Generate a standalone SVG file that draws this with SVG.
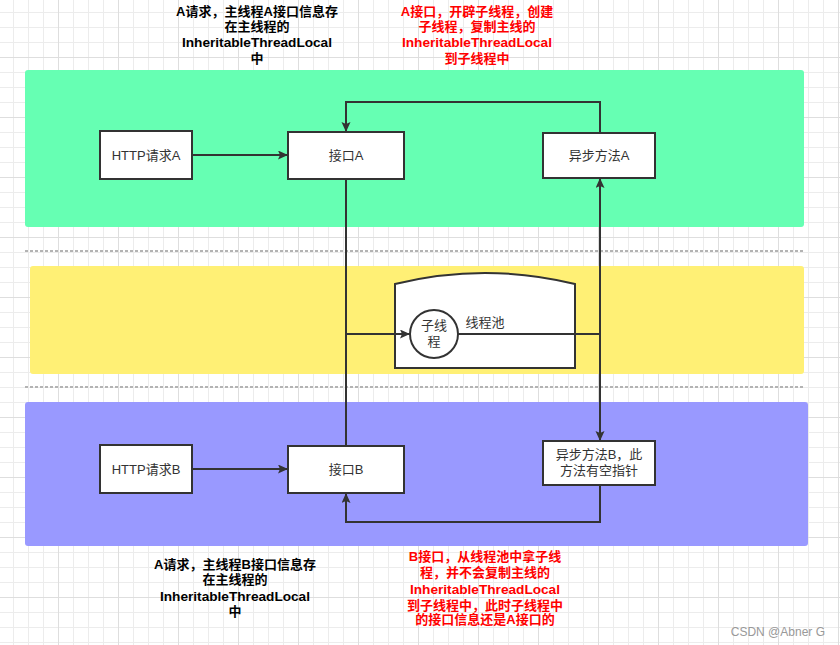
<svg xmlns="http://www.w3.org/2000/svg" width="840" height="645" viewBox="0 0 840 645">
<defs>
<pattern id="grid" x="-2" y="-3" width="60" height="60" patternUnits="userSpaceOnUse">
<rect x="0" y="0" width="60" height="60" fill="#ffffff"/>
<g fill="#ececec">
<rect x="15" y="0" width="1" height="60"/><rect x="30" y="0" width="1" height="60"/><rect x="45" y="0" width="1" height="60"/>
<rect x="0" y="15" width="60" height="1"/><rect x="0" y="30" width="60" height="1"/><rect x="0" y="45" width="60" height="1"/>
</g>
<g fill="#dedede"><rect x="0" y="0" width="1" height="60"/><rect x="0" y="0" width="60" height="1"/></g>
</pattern>
<marker id="arr" markerUnits="userSpaceOnUse" markerWidth="12" markerHeight="10" refX="10" refY="4.5" orient="auto" viewBox="0 0 12 10">
<path d="M0,0 L10,4.5 L0,9 L2,4.5 Z" fill="#333333"/>
</marker>
<style>
.box{fill:#ffffff;stroke:#333333;stroke-width:2}
.t{font-family:"Liberation Sans","Noto Sans CJK SC",sans-serif;font-size:13px;fill:#333333;text-anchor:middle}
.n{font-family:"Liberation Sans","Noto Sans CJK SC",sans-serif;font-size:13px;font-weight:bold;fill:#000000;text-anchor:middle}
.r{fill:#ff0000}
.edge{fill:none;stroke:#333333;stroke-width:2}
.dash{stroke:#b3b3b3;stroke-width:2;stroke-dasharray:3,2;fill:none}
</style>
</defs>
<rect x="0" y="0" width="840" height="645" fill="url(#grid)"/>

<g id="bands">
<rect x="25" y="70" width="779" height="157" rx="3" fill="#66ffb3"/>
<line class="dash" x1="25" y1="251" x2="804" y2="251"/>
<rect x="30" y="266" width="774" height="108" rx="3" fill="#fff075"/>
<line class="dash" x1="25" y1="387" x2="804" y2="387"/>
<rect x="25" y="402" width="783" height="144" rx="3" fill="#9999ff"/>
</g>

<g id="pool">
<path class="box" d="M395,284 Q485,262 575,284 L575,368 L395,368 Z"/>
<text class="t" x="485" y="327">线程池</text>
</g>

<g id="connectors">
<path class="edge" d="M192,155 L288,155" marker-end="url(#arr)"/>
<path class="edge" d="M192,469 L288,469" marker-end="url(#arr)"/>
<path class="edge" d="M600,133 L600,102 L346,102 L346,132" marker-end="url(#arr)"/>
<path class="edge" d="M600,485 L600,522 L346,522 L346,493" marker-end="url(#arr)"/>
<path class="edge" d="M346,179 L346,334 L410,334" marker-end="url(#arr)"/>
<path class="edge" d="M346,446 L346,334"/>
<path class="edge" d="M458,334 L600,334 L600,178" marker-end="url(#arr)"/>
<path class="edge" d="M600,334 L600,441" marker-end="url(#arr)"/>
</g>

<g id="thread">
<circle cx="434" cy="334" r="24" fill="#ffffff" stroke="#333333" stroke-width="2"/>
<text class="t" x="434" y="330">子线</text>
<text class="t" x="434" y="346">程</text>
</g>

<g id="httpA"><rect class="box" x="100" y="131" width="92" height="48"/><text class="t" x="146" y="160">HTTP请求A</text></g>
<g id="apiA"><rect class="box" x="288" y="132" width="116" height="47"/><text class="t" x="346" y="160">接口A</text></g>
<g id="asyncA"><rect class="box" x="543" y="133" width="112" height="45"/><text class="t" x="599" y="160">异步方法A</text></g>
<g id="httpB"><rect class="box" x="100" y="445" width="92" height="48"/><text class="t" x="146" y="474">HTTP请求B</text></g>
<g id="apiB"><rect class="box" x="288" y="446" width="116" height="47"/><text class="t" x="346" y="474">接口B</text></g>
<g id="asyncB"><rect class="box" x="543" y="441" width="112" height="44"/><text class="t" x="599" y="459">异步方法B，此</text><text class="t" x="599" y="475">方法有空指针</text></g>

<g id="noteTopA">
<text class="n" x="257" y="16">A请求，主线程A接口信息存</text>
<text class="n" x="257" y="31">在主线程的</text>
<text class="n" x="257" y="47" textLength="150" lengthAdjust="spacingAndGlyphs">InheritableThreadLocal</text>
<text class="n" x="257" y="63">中</text>
</g>
<g id="noteTopB">
<text class="n r" x="477" y="16">A接口，开辟子线程，创建</text>
<text class="n r" x="477" y="31">子线程，复制主线的</text>
<text class="n r" x="477" y="47" textLength="150" lengthAdjust="spacingAndGlyphs">InheritableThreadLocal</text>
<text class="n r" x="477" y="63">到子线程中</text>
</g>
<g id="noteBottomA">
<text class="n" x="235" y="569">A请求，主线程B接口信息存</text>
<text class="n" x="235" y="584">在主线程的</text>
<text class="n" x="235" y="601" textLength="150" lengthAdjust="spacingAndGlyphs">InheritableThreadLocal</text>
<text class="n" x="235" y="616">中</text>
</g>
<g id="noteBottomB">
<text class="n r" x="485" y="561">B接口，从线程池中拿子线</text>
<text class="n r" x="485" y="577">程，并不会复制主线的</text>
<text class="n r" x="485" y="594" textLength="150" lengthAdjust="spacingAndGlyphs">InheritableThreadLocal</text>
<text class="n r" x="485" y="610">到子线程中，此时子线程中</text>
<text class="n r" x="485" y="624">的接口信息还是A接口的</text>
</g>
<text x="825" y="636" font-family="'Liberation Sans','Noto Sans CJK SC',sans-serif" font-size="12" fill="#999999" text-anchor="end">CSDN @Abner G</text>
</svg>
